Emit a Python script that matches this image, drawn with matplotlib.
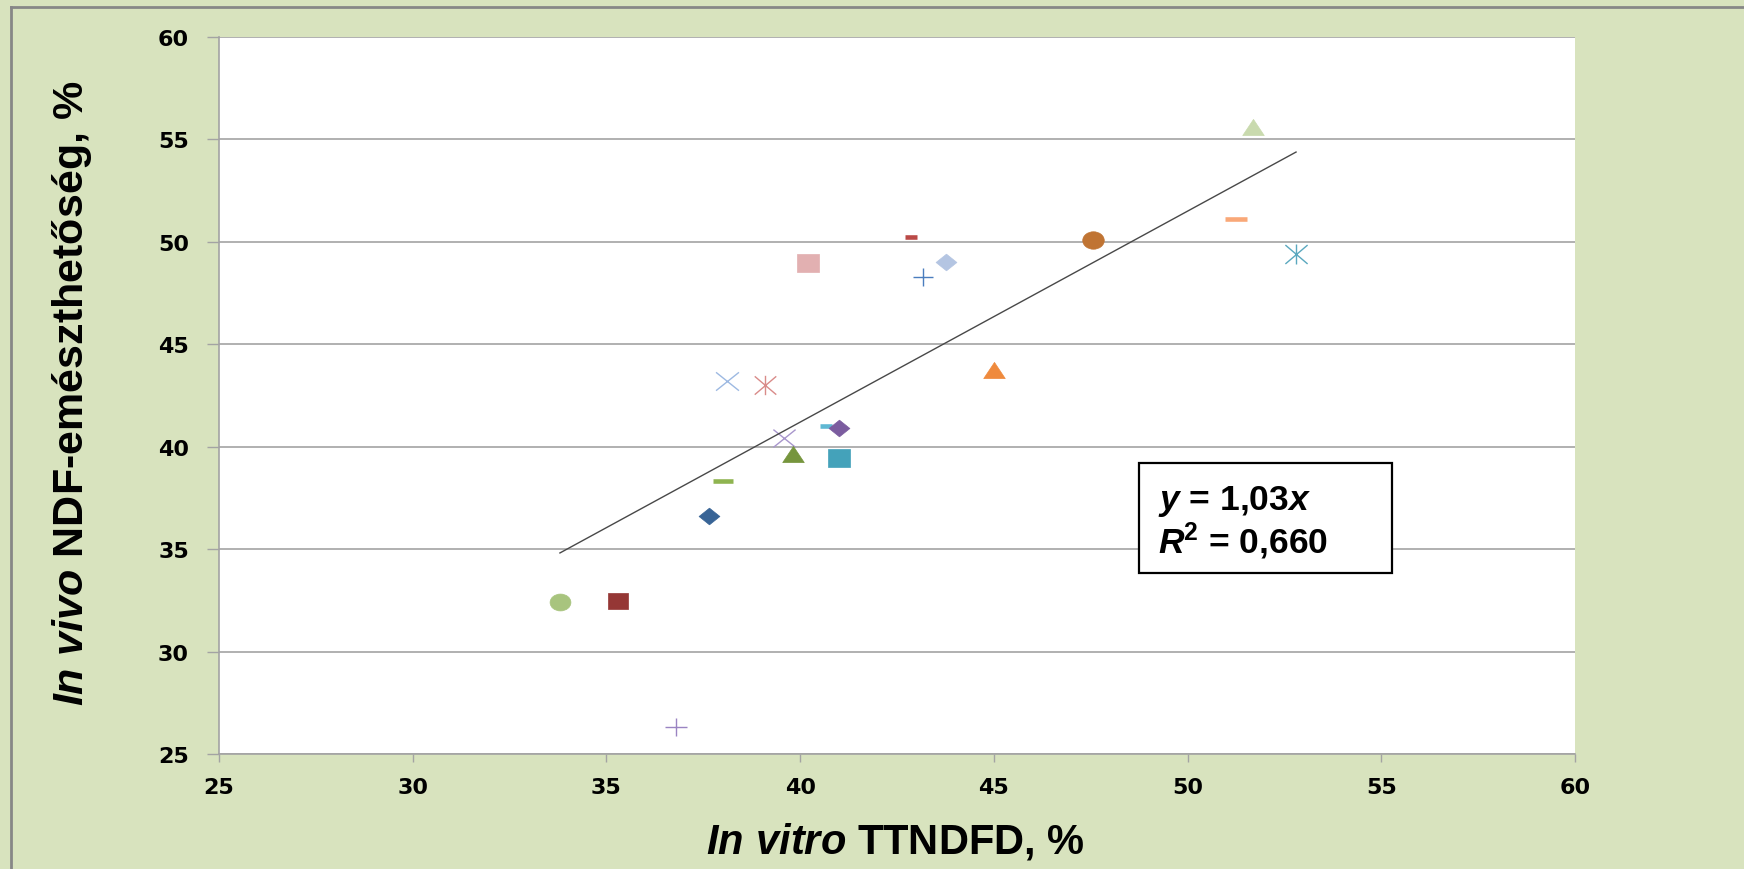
import numpy as np
import matplotlib
matplotlib.use("Agg")
import matplotlib.pyplot as plt
from matplotlib.path import Path
from matplotlib.patches import Rectangle
from matplotlib.lines import Line2D

plt.rcParams['mathtext.fontset'] = 'custom'
plt.rcParams['mathtext.rm'] = 'Liberation Sans:bold'
plt.rcParams['mathtext.bf'] = 'Liberation Sans:bold'
plt.rcParams['mathtext.it'] = 'Liberation Sans:italic:bold'
plt.rcParams['mathtext.bfit'] = 'Liberation Sans:italic:bold'

# ---------------- data ----------------
in_vitro = [33.80, 35.29, 36.80, 37.66, 38.00, 38.10, 39.09, 39.59, 39.81, 40.19,
            40.67, 41.00, 41.00, 42.85, 43.16, 43.76, 45.00, 47.56, 51.26, 51.70, 52.80]
in_vivo = [32.41, 32.49, 26.31, 36.61, 38.32, 43.20, 43.02, 40.41, 39.65, 48.99,
           41.00, 40.90, 39.44, 50.22, 48.30, 49.00, 43.76, 50.11, 51.12, 55.59, 49.41]
slope = 1.03
r2_text = "0,660"
x_ticks = [25, 30, 35, 40, 45, 50, 55, 60]
y_ticks = [25, 30, 35, 40, 45, 50, 55, 60]

# ---------------- styles ----------------
ellipse = Path(Path.unit_circle().vertices * np.array([1.0, 0.81]), Path.unit_circle().codes)
rect = Path([(-1, -0.8), (1, -0.8), (1, 0.8), (-1, 0.8), (-1, -0.8)],
            [Path.MOVETO, Path.LINETO, Path.LINETO, Path.LINETO, Path.CLOSEPOLY])
diamond = Path([(0, 0.8), (1, 0), (0, -0.8), (-1, 0), (0, 0.8)],
               [Path.MOVETO, Path.LINETO, Path.LINETO, Path.LINETO, Path.CLOSEPOLY])
tri = Path([(0, 0.75), (-1, -0.75), (1, -0.75), (0, 0.75)],
           [Path.MOVETO, Path.LINETO, Path.LINETO, Path.CLOSEPOLY])
xmark = Path([(-1, -0.8), (1, 0.8), (-1, 0.8), (1, -0.8)],
             [Path.MOVETO, Path.LINETO, Path.MOVETO, Path.LINETO])
plus = Path([(-1, 0), (1, 0), (0, -0.85), (0, 0.85)],
            [Path.MOVETO, Path.LINETO, Path.MOVETO, Path.LINETO])
aster = Path([(-1, -0.85), (1, 0.85), (-1, 0.85), (1, -0.85), (0, -0.9), (0, 0.9)],
             [Path.MOVETO, Path.LINETO, Path.MOVETO, Path.LINETO, Path.MOVETO, Path.LINETO])

styles = [
    (ellipse, '#A8C47E', 15.0, 'fill'),
    (rect, '#953735', 15.0, 'fill'),
    (plus, '#9A84C2', 16.0, 'line'),
    (diamond, '#386496', 15.0, 'fill'),
    ('_', '#8FB450', 15.0, 'dash'),
    (xmark, '#9DB9E2', 16.5, 'line'),
    (aster, '#D98B89', 15.5, 'line'),
    (xmark, '#A896CC', 16.0, 'line'),
    (tri, '#76953D', 15.5, 'fill'),
    (rect, '#E2B0B1', 15.5, 'fill'),
    ('_', '#5FB8D3', 8.0, 'dash'),
    (diamond, '#7B5C9F', 15.0, 'fill'),
    (rect, '#44A2BA', 15.5, 'fill'),
    ('_', '#BA4947', 8.0, 'dash'),
    (plus, '#4A7DBE', 14.5, 'line'),
    (diamond, '#B4C5E2', 15.0, 'fill'),
    (tri, '#EF8A3D', 15.5, 'fill'),
    (ellipse, '#C07433', 15.5, 'fill'),
    ('_', '#F9A878', 15.5, 'dash'),
    (tri, '#C9DAAE', 15.5, 'fill'),
    (aster, '#5AA8BF', 16.0, 'line'),
]

W, H = 1744, 870
fig = plt.figure(figsize=(W / 100, H / 100), dpi=100, facecolor='#D8E3BE')
ax = fig.add_axes([219 / W, 1 - 755 / H, (1575 - 219) / W, (755 - 38) / H])
ax.set_facecolor('white')

for (px, py, (mk, col, ms, kind)) in zip(in_vitro, in_vivo, styles):
    if kind == 'fill':
        ax.plot([px], [py], linestyle='none', marker=mk, ms=ms, mfc=col, mec=col, mew=0.5, zorder=3)
    elif kind == 'line':
        ax.plot([px], [py], linestyle='none', marker=mk, ms=ms, mfc='none', mec=col, mew=1.0, zorder=3)
    else:
        ax.plot([px], [py], linestyle='none', marker=mk, ms=ms, mec=col, mew=3.3, zorder=3)

xs = np.array([min(in_vitro), max(in_vitro)])
ax.plot(xs, slope * xs, color='#484848', lw=1.0, zorder=4)

ax.set_xlim(25, 60)
ax.set_ylim(25, 60)
ax.set_xticks(x_ticks)
ax.set_yticks(y_ticks)
ax.set_xticklabels([str(t) for t in x_ticks])
ax.set_yticklabels([str(t) for t in y_ticks])
ax.yaxis.grid(True, color='#A3A3A3', lw=1.2)
ax.xaxis.grid(False)
ax.set_axisbelow(True)
for s in ['top', 'right']:
    ax.spines[s].set_visible(False)
for s in ['left', 'bottom']:
    ax.spines[s].set_color('#A3A3A3')
    ax.spines[s].set_linewidth(1.2)
ax.tick_params(axis='y', direction='out', length=8.6, width=1.0, color='#A3A3A3', pad=13)
ax.tick_params(axis='x', direction='out', length=5.8, width=1.0, color='#A3A3A3', pad=11)
for lab in ax.get_xticklabels() + ax.get_yticklabels():
    lab.set_fontfamily('DejaVu Sans')
    lab.set_fontweight('bold')
    lab.set_fontsize(16)
    lab.set_color('black')

# axis labels
fig.text(895 / W, 1 - 842 / H, r"$\mathbfit{In\ vitro}$ TTNDFD, %", ha='center', va='center',
         fontsize=30, fontfamily='Liberation Sans', fontweight='bold')
fig.text(72 / W, 1 - 393 / H, r"$\mathbfit{In\ vivo}$ NDF-emészthetőség, %", ha='center', va='center',
         rotation=90, fontsize=31, fontfamily='Liberation Sans', fontweight='bold')

# equation box
fig.patches.append(Rectangle((1139 / W, 1 - 574 / H), (1392 - 1139) / W, (574 - 464) / H,
                             transform=fig.transFigure, facecolor='white', edgecolor='black',
                             lw=1.6, zorder=5))
fig.text(1158 / W, 1 - 510 / H, r"$\mathbfit{y}$ = 1,03$\mathbfit{x}$", ha='left', va='baseline',
         fontsize=25.5, fontfamily='Liberation Sans', fontweight='bold', zorder=6)
fig.text(1158 / W, 1 - 553 / H, r"$\mathbfit{R}^{\mathbf{2}}$ = " + r2_text, ha='left', va='baseline',
         fontsize=25.5, fontfamily='Liberation Sans', fontweight='bold', zorder=6)

# outer border (top and left)
fig.add_artist(Line2D([11 / W, 1], [1 - 8 / H, 1 - 8 / H], transform=fig.transFigure,
                      color='#878787', lw=2.0))
fig.add_artist(Line2D([11 / W, 11 / W], [0, 1 - 8 / H], transform=fig.transFigure,
                      color='#878787', lw=2.0))

fig.savefig('out.png', dpi=100, facecolor=fig.get_facecolor())
